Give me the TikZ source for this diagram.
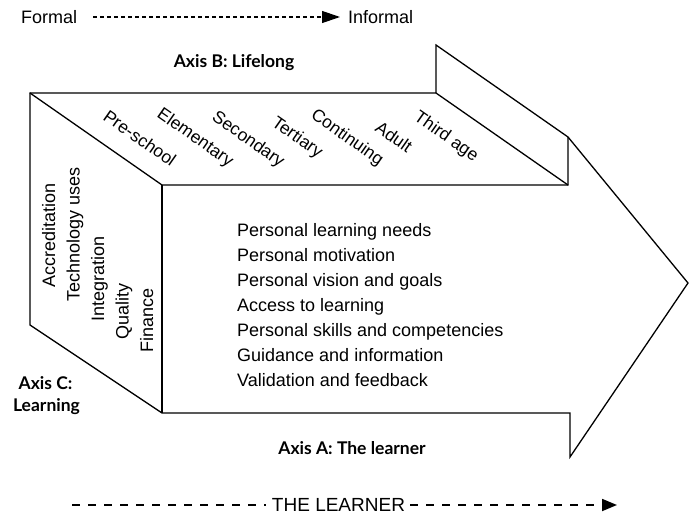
\documentclass[tikz,border=0pt]{standalone}
\usepackage{fontspec}
\setmainfont{Liberation Sans}
\newfontfamily\axisfont{Lato}
\usetikzlibrary{arrows.meta}
\begin{document}
\begin{tikzpicture}[x=1pt,y=-1pt,
  edge/.style={line width=1.3pt, line join=miter},
  item/.style={font=\fontsize{18}{20}\selectfont, inner sep=0pt, anchor=base west},
  topl/.style={font=\fontsize{17.5}{20}\selectfont, inner sep=0pt, rotate=-35},
  sidel/.style={font=\fontsize{18}{20}\selectfont, inner sep=0pt, rotate=90, anchor=base west},
  axislbl/.style={font=\axisfont\bfseries\fontsize{17.5}{19}\selectfont, inner sep=0pt},
  plain/.style={font=\fontsize{18}{20}\selectfont, inner sep=0pt},
]
\useasboundingbox (0,0) rectangle (689,525);

% geometry
\coordinate (B1) at (30,93);
\coordinate (B2) at (436,93);
\coordinate (N1) at (436,45);
\coordinate (H1) at (568,137);
\coordinate (T)  at (688,283);
\coordinate (H2) at (570,457);
\coordinate (H3) at (570,413);
\coordinate (F1) at (162,185);
\coordinate (F2) at (568,185);
\coordinate (F3) at (162,413);
\coordinate (L2) at (30,325);

\draw[edge] (B1) -- (B2) -- (N1) -- (H1) -- (T) -- (H2) -- (H3) -- (F3) -- (L2) -- cycle;
\draw[edge] (B1) -- (F1) -- (F2) -- (H1);
\draw[edge] (B2) -- (F2);
\draw[edge] (F1) -- (F3);

% top face labels
\node[topl] (pre) at (140,138) {Pre-school};
\node[topl] (ele) at (195,138) {Elementary};
\node[topl] (sec) at (248,140) {Secondary};
\node[topl] (ter) at (297,138) {Tertiary};
\node[topl] (con) at (347,138) {Continuing};
\node[topl] (adu) at (394,137) {Adult};
\node[topl] (thi) at (446,137) {Third age};

% side face labels
\node[sidel] (acc) at (55,288) {Accreditation};
\node[sidel] (tec) at (79.5,302) {Technology uses};
\node[sidel] (int) at (104,322) {Integration};
\node[sidel] (qua) at (128.5,340) {Quality};
\node[sidel] (fin) at (153,353) {Finance};

% front face list
\node[item] (l1) at (237,236.7) {Personal learning needs};
\node[item] (l2) at (237,261.7) {Personal motivation};
\node[item] (l3) at (237,286.7) {Personal vision and goals};
\node[item] (l4) at (237,311.7) {Access to learning};
\node[item] (l5) at (237,336.7) {Personal skills and competencies};
\node[item] (l6) at (237,361.7) {Guidance and information};
\node[item] (l7) at (237,386.7) {Validation and feedback};

% axis labels
\node[axislbl] (axb) at (234,63) {Axis B: Lifelong};
\node[axislbl] (axa) at (352,448) {Axis A: The learner};
\node[axislbl] (axc1) at (45.5,383) {Axis C:};
\node[axislbl] (axc2) at (46.5,407) {Learning};

% formal -> informal
\node[plain, anchor=west] (formal) at (21,17) {Formal};
\node[plain, anchor=west] (informal) at (348,17) {Informal};
\draw[line width=1.2pt, dash pattern=on 4pt off 3pt, -{Triangle[length=18pt,width=12pt]}]
  ([xshift=16pt]formal.east) -- ([xshift=-8pt]informal.west);

% the learner
\node[plain, font=\fontsize{19}{21}\selectfont] (lrn) at (338.5,505) {THE LEARNER};
\coordinate (ls) at (72,505);
\coordinate (le) at (617,505);
\draw[line width=1.8pt, dash pattern=on 8pt off 8pt] (ls) -- ([xshift=-6pt]lrn.west);
\draw[line width=1.8pt, dash pattern=on 8pt off 8pt, -{Triangle[length=15pt,width=12pt]}]
  ([xshift=5pt]lrn.east) -- (le);
\end{tikzpicture}
\end{document}
